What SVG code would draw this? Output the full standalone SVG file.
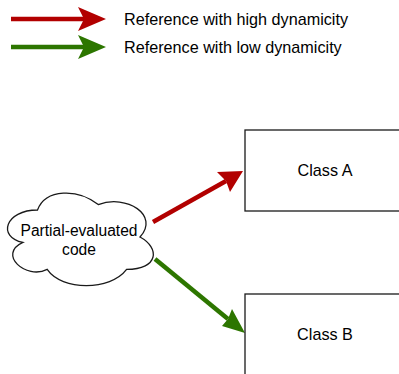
<svg xmlns="http://www.w3.org/2000/svg" width="399" height="374" viewBox="0 0 399 374">
<style>
text{font-family:"Liberation Sans",Arial,sans-serif;font-size:16.2px;fill:#000}
.sm{font-size:15.6px}
.box{fill:#fff;stroke:#1a1a1a;stroke-width:1.3}
.red{stroke:#b20000;stroke-width:4.5;fill:none}
.green{stroke:#2d7600;stroke-width:4.5;fill:none}
</style>
<g id="legend">
<path class="red" d="M11,19 H84"/>
<path d="M78,7 L106,19 L78,31 L84,19 Z" fill="#b20000"/>
<path class="green" d="M11,47 H84"/>
<path d="M78,35 L106,47 L78,59 L84,47 Z" fill="#2d7600"/>
<text x="124" y="25">Reference with high dynamicity</text>
<text x="124" y="53">Reference with low dynamicity</text>
</g>
<g id="connectors">
<path class="red" d="M153,222 L226,181"/>
<path d="M243,171 L230,192 L226,181 L217,172 Z" fill="#b20000"/>
<path class="green" d="M155,259 L228,319"/>
<path d="M245,333 L222,326 L228,319 L232,309 Z" fill="#2d7600"/>
</g>
<g id="cloud">
<path class="box" d="M37.5,210 C5.1,210 -3,237 22.9,242.4 C-3,254.3 26.2,280.2 47.2,269.4 C61.8,291 110.4,291 126.6,269.4 C159,269.4 160,247.8 140,237 C160,215.4 126.6,193.8 98.25,204.6 C78,188.4 45.6,188.4 37.5,210 Z"/>
<text class="sm" x="79" y="236" text-anchor="middle">Partial-evaluated</text>
<text class="sm" x="79" y="255" text-anchor="middle">code</text>
</g>
<g id="classA">
<rect class="box" x="245" y="130" width="160" height="81"/>
<text x="325" y="176" text-anchor="middle">Class A</text>
</g>
<g id="classB">
<rect class="box" x="245" y="294" width="160" height="90"/>
<text x="325" y="340" text-anchor="middle">Class B</text>
</g>
</svg>
